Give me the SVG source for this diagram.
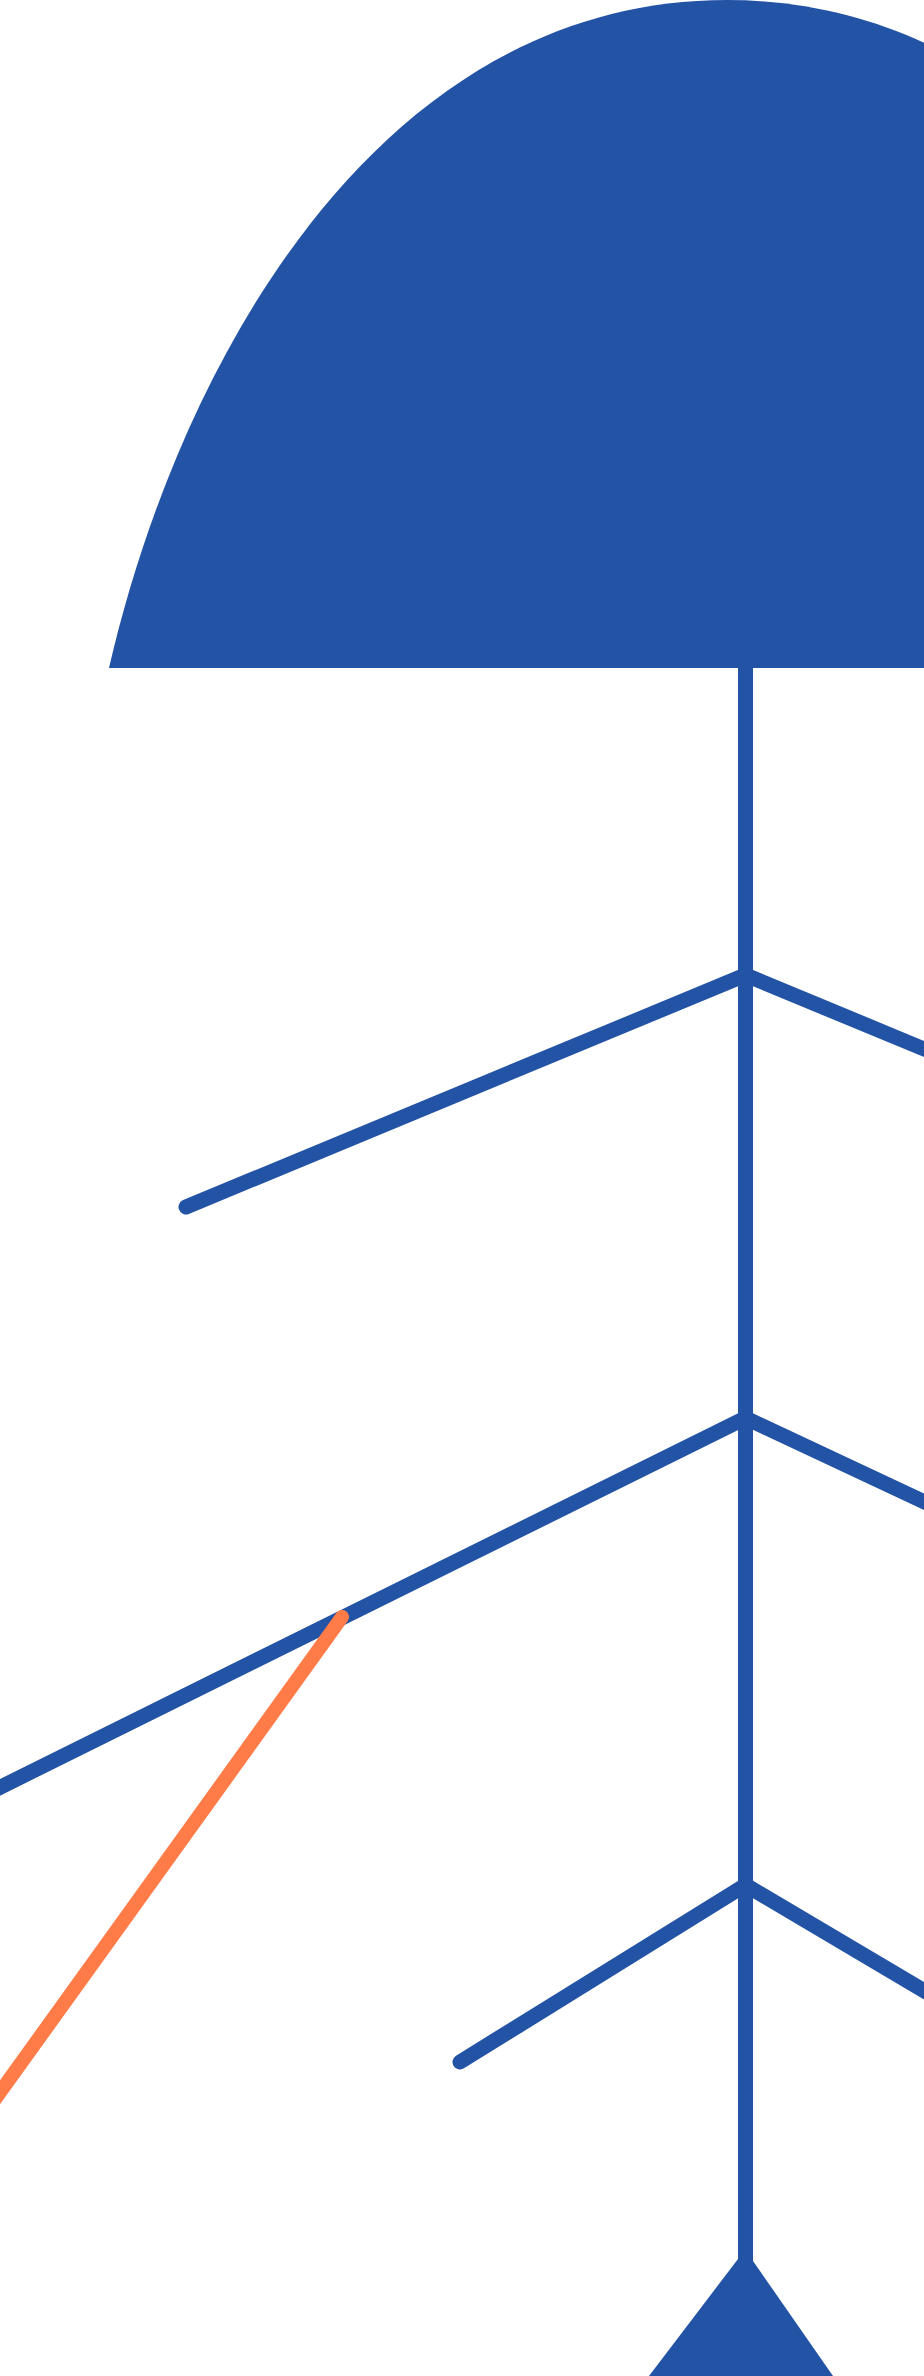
<svg xmlns="http://www.w3.org/2000/svg" width="924" height="2376" viewBox="0 0 924 2376">
  <style>
    .blue { stroke: #2353A5; stroke-width: 15; stroke-linecap: round; fill: none; }
    .orange { stroke: #FF7B47; stroke-width: 14; stroke-linecap: round; fill: none; }
    .fillblue { fill: #2353A5; }
  </style>
  <rect x="0" y="0" width="924" height="2376" fill="#FFFFFF"/>
  <g id="dome">
    <path class="fillblue" d="M109,668 C180,360 380,0 727,0 C1074,0 1274,360 1345,668 Z"/>
  </g>
  <g id="stem">
    <line class="blue" style="stroke-linecap:butt" x1="745.5" y1="660" x2="745.5" y2="2264"/>
  </g>
  <g id="base">
    <polygon class="fillblue" points="738,2259 753,2261 833,2376 649,2376"/>
  </g>
  <g id="connectors">
    <line class="blue" x1="745.5" y1="975" x2="186" y2="1207"/>
    <line class="blue" x1="745.5" y1="975" x2="965" y2="1066"/>
    <line class="blue" x1="745.5" y1="1418" x2="-60" y2="1817"/>
    <line class="blue" x1="745.5" y1="1418" x2="965" y2="1521"/>
    <line class="blue" x1="745.5" y1="1885" x2="460" y2="2062"/>
    <line class="blue" x1="745.5" y1="1885" x2="965" y2="2015"/>
    <line class="orange" x1="342" y1="1617" x2="-30" y2="2134"/>
  </g>
</svg>
